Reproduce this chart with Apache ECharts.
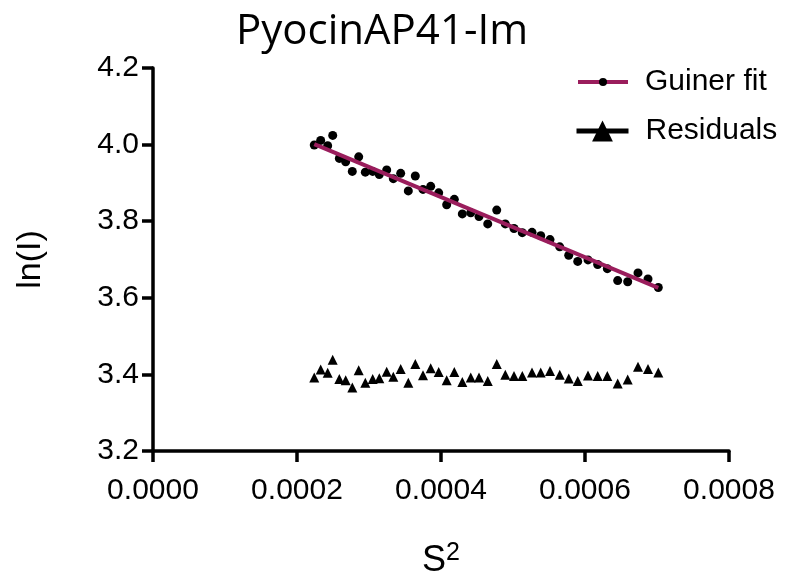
<!DOCTYPE html>
<html>
<head>
<meta charset="utf-8">
<script src="https://cdn.jsdelivr.net/npm/echarts@6/dist/echarts.min.js"></script>
<style>
  html, body { margin: 0; padding: 0; background: #fff; }
  #chart { width: 790px; height: 584px; }
</style>
</head>
<body>
<div id="chart"></div>
<script>
// S^2 values of the measured points
var sSquared = [0.0002240, 0.0002329, 0.0002426, 0.0002496, 0.0002588, 0.0002676, 0.0002768, 0.0002857, 0.0002949, 0.0003051,
  0.0003143, 0.0003246, 0.0003338, 0.0003440, 0.0003546, 0.0003643, 0.0003750, 0.0003857, 0.0003968, 0.0004079,
  0.0004185, 0.0004296, 0.0004413, 0.0004528, 0.0004649, 0.0004774, 0.0004893, 0.0005014, 0.0005129, 0.0005264,
  0.0005385, 0.0005514, 0.0005649, 0.0005774, 0.0005899, 0.0006042, 0.0006176, 0.0006310, 0.0006454, 0.0006593,
  0.0006736, 0.0006875, 0.0007018];
// ln(I) of the measured points
var lnI = [3.999, 4.011, 3.997, 4.024, 3.964, 3.955, 3.930, 3.968, 3.928, 3.930,
  3.922, 3.934, 3.911, 3.925, 3.879, 3.918, 3.883, 3.891, 3.874, 3.843,
  3.857, 3.819, 3.822, 3.812, 3.793, 3.829, 3.793, 3.781, 3.770, 3.771,
  3.762, 3.752, 3.733, 3.711, 3.695, 3.699, 3.687, 3.676, 3.645, 3.642,
  3.665, 3.649, 3.627];
// residuals (plotted with offset around 3.4)
var residuals = [3.392, 3.413, 3.404, 3.438, 3.388, 3.385, 3.366, 3.411, 3.378, 3.388,
  3.390, 3.407, 3.394, 3.414, 3.378, 3.427, 3.398, 3.416, 3.406, 3.385,
  3.406, 3.380, 3.392, 3.392, 3.383, 3.427, 3.399, 3.396, 3.396, 3.405,
  3.405, 3.409, 3.399, 3.389, 3.383, 3.397, 3.396, 3.396, 3.376, 3.387,
  3.420, 3.414, 3.405];
// Guiner fit line end points
var fitX = [0.0002240, 0.0007018];
var fitY = [4.001, 3.626];

var xTicks = { min: 0, max: 0.0008, interval: 0.0002 };
var yTicks = { min: 3.2, max: 4.2, interval: 0.2 };

var fitColor = "#9a1d5c";
var font = "Liberation Sans";

var chart = echarts.init(document.getElementById("chart"));

var option = {
  animation: false,
  title: {
    text: "PyocinAP41-Im",
    left: 231,
    top: 6,
    textStyle: {
      fontFamily: "Open Sans",
      fontWeight: "normal",
      fontSize: 42,
      color: "#000",
    },
  },
  legend: [
    {
      orient: "vertical",
      left: 576,
      top: 67,
      padding: 0,
      itemWidth: 50,
      itemHeight: 10,
      data: [
        {
          name: "Guiner fit",
          lineStyle: { color: fitColor, width: 4, opacity: 1 },
          itemStyle: { color: "#000" },
        },
      ],
      textStyle: {
        fontFamily: font,
        fontSize: 30,
        color: "#000",
        padding: [0, 0, 0, 12],
      },
    },
    {
      orient: "vertical",
      left: 574,
      top: 116,
      padding: 0,
      itemWidth: 52,
      itemHeight: 26,
      data: [
        {
          name: "Residuals",
          lineStyle: { color: "#000", width: 5, opacity: 1 },
          itemStyle: { color: "#000" },
        },
      ],
      textStyle: {
        fontFamily: font,
        fontSize: 30,
        color: "#000",
        padding: [0, 0, 0, 12],
      },
    },
  ],
  grid: {
    left: 153,
    right: 61,
    top: 68,
    bottom: 129,
  },
  xAxis: {
    type: "value",
    min: xTicks.min,
    max: xTicks.max,
    interval: xTicks.interval,
    name: "{s|S}{sup|2}",
    nameLocation: "middle",
    nameGap: 90,
    nameTextStyle: {
      rich: {
        s: { fontFamily: font, fontSize: 36, color: "#000", lineHeight: 40 },
        sup: { fontFamily: font, fontSize: 25, color: "#000", verticalAlign: "top", lineHeight: 36 },
      },
    },
    axisLine: { show: true, onZero: false, lineStyle: { color: "#000", width: 3.5 } },
    axisTick: { show: true, length: 11, lineStyle: { color: "#000", width: 3.5 } },
    axisLabel: {
      color: "#000",
      fontFamily: font,
      fontSize: 30,
      margin: 25,
      formatter: function (v) {
        return v.toFixed(4);
      },
    },
    splitLine: { show: false },
  },
  yAxis: {
    type: "value",
    min: yTicks.min,
    max: yTicks.max,
    interval: yTicks.interval,
    name: "ln(I)",
    nameLocation: "middle",
    nameRotate: 90,
    nameGap: 105,
    nameTextStyle: {
      fontFamily: font,
      fontSize: 34,
      color: "#000",
    },
    axisLine: { show: true, onZero: false, lineStyle: { color: "#000", width: 3.5 } },
    axisTick: { show: true, length: 11, lineStyle: { color: "#000", width: 3.5 } },
    axisLabel: {
      color: "#000",
      fontFamily: font,
      fontSize: 30,
      margin: 14,
      formatter: function (v) {
        return v.toFixed(1);
      },
    },
    splitLine: { show: false },
  },
  series: [
    {
      // fit line (first, so the legend icon takes line + dot from it)
      name: "Guiner fit",
      type: "line",
      symbol: "circle",
      showSymbol: false,
      itemStyle: { color: "#000" },
      lineStyle: { color: fitColor, width: 4 },
      data: fitX.map(function (x, i) {
        return [x, fitY[i]];
      }),
      z: 3,
    },
    {
      name: "Guiner fit",
      type: "scatter",
      symbol: "circle",
      symbolSize: 9,
      itemStyle: { color: "#000", opacity: 1 },
      data: sSquared.map(function (x, i) {
        return [x, lnI[i]];
      }),
      z: 2,
    },
    {
      name: "Residuals",
      type: "line",
      symbol: "triangle",
      symbolSize: 10,
      showSymbol: true,
      itemStyle: { color: "#000" },
      lineStyle: { width: 0, opacity: 0 },
      data: sSquared.map(function (x, i) {
        return [x, residuals[i]];
      }),
    },
  ],
};

chart.setOption(option);
</script>
</body>
</html>
